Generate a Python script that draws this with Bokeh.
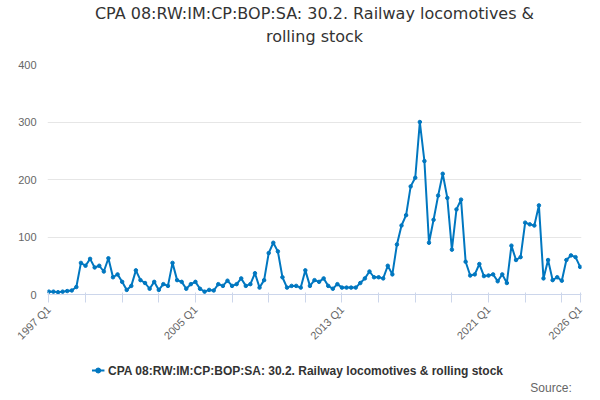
from bokeh.plotting import figure
from bokeh.layouts import column
from bokeh.models import FixedTicker, Title
from bokeh.embed import file_html
from bokeh.resources import INLINE

values = [5,5,4,5, 6,7,13,55, 50,62,47,50, 40,63,30,35, 22,8,15,42, 25,20,10,22,
          8,18,15,55, 25,22,10,18, 22,10,5,8, 7,18,15,24, 15,18,28,15, 18,37,12,25,
          72,90,75,30, 12,15,15,12, 42,15,25,22, 28,15,10,18, 12,12,12,12,
          20,28,40,30, 30,28,50,35, 87,120,138,188, 203,300,232,90, 130,172,210,168,
          78,148,165,57, 33,35,53,32, 33,35,23,35, 20,85,60,65, 125,122,120,155,
          28,60,25,30, 24,60,68,65, 48]
labels = {0: "1997 Q1", 32: "2005 Q1", 64: "2013 Q1", 96: "2021 Q1", 116: "2026 Q1"}
title_lines = ["CPA 08:RW:IM:CP:BOP:SA: 30.2. Railway locomotives &", "rolling stock"]
series_name = "CPA 08:RW:IM:CP:BOP:SA: 30.2. Railway locomotives & rolling stock"
source_text = "Source:"
x = list(range(len(values)))
tick_pos = list(range(0, 117, 8)) + [116]
BLUE = "#0077c0"

p = figure(frame_width=534, frame_height=230,
           output_backend="svg", toolbar_location=None,
           y_range=(0, 400), x_range=(-0.3, 116.3),
           min_border_left=47, min_border_right=19, min_border_top=0, min_border_bottom=0)
p.title = None

p.line(x, values, line_color=BLUE, line_width=2)
p.scatter(x, values, size=3.5, color=BLUE)

p.xaxis.ticker = FixedTicker(ticks=tick_pos)
p.xaxis.major_label_overrides = {t: labels.get(t, "") for t in tick_pos}
p.xaxis.major_label_orientation = 0.785
p.xaxis.major_label_text_font_size = "11px"
p.xaxis.major_label_text_color = "#666666"
p.xaxis.axis_line_color = "#ccd6eb"
p.xaxis.major_tick_line_color = "#ccd6eb"
p.xaxis.major_tick_out = 8
p.xaxis.minor_tick_line_color = None
p.xgrid.grid_line_color = None

p.yaxis.ticker = FixedTicker(ticks=[0, 100, 200, 300, 400])
p.yaxis.axis_line_color = None
p.yaxis.major_tick_line_color = None
p.yaxis.minor_tick_line_color = None
p.yaxis.major_label_text_font_size = "11px"
p.yaxis.major_label_text_color = "#666666"
p.ygrid.grid_line_color = "#e6e6e6"
p.outline_line_color = None

p.add_layout(Title(text=" ", text_font_size="12px", standoff=2), "above")
for t in reversed(title_lines):
    p.add_layout(Title(text=t, align="center", text_font="DejaVu Sans", text_font_size="16px",
                       text_font_style="normal", text_color="#333333", standoff=2), "above")

# legend / source strip
q = figure(width=600, height=46, output_backend="svg", toolbar_location=None,
           x_range=(0, 600), y_range=(0, 46), min_border=0)
q.title = None
q.axis.visible = False
q.grid.visible = False
q.outline_line_color = None
q.line([50, 64], [24, 24], line_color=BLUE, line_width=2)
q.scatter([57], [24], size=5, color=BLUE)
q.text([68], [24], text=[series_name], text_baseline="middle", text_font_size="12px",
       text_font_style="bold", text_color="#333333")
q.text([589], [7], text=[source_text], text_align="right", text_baseline="middle",
       text_font_size="12px", text_color="#666666")

open("out.html", "w").write(file_html(column(p, q, spacing=0), INLINE))
